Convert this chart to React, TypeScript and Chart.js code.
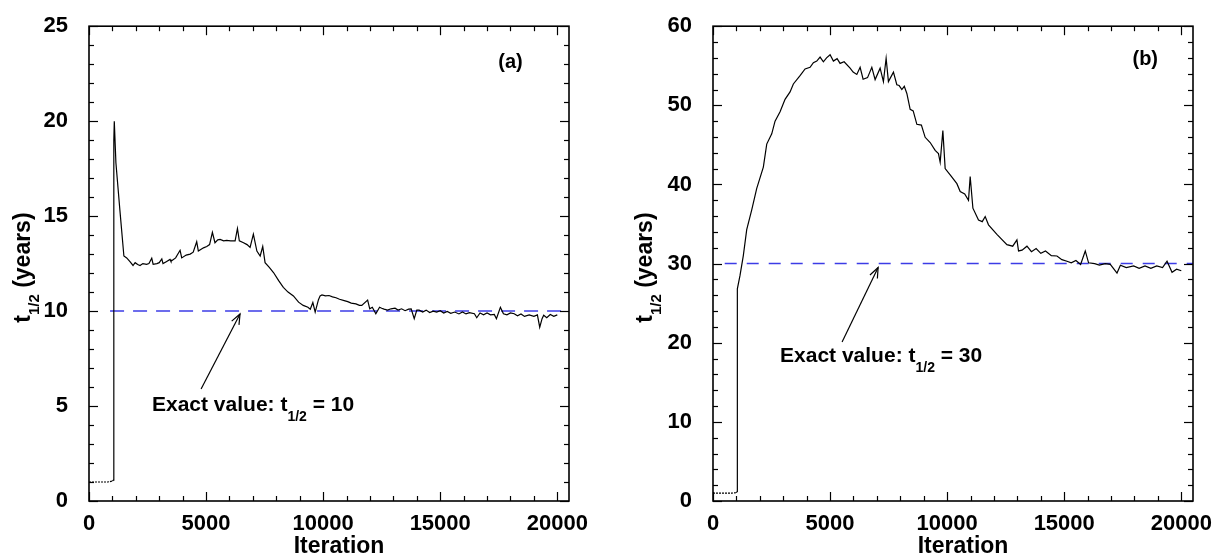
import React, { useEffect, useRef } from "react";
import { Chart, registerables } from "chart.js";

Chart.register(...registerables);

const FONT = '"Liberation Sans", Arial, Helvetica, sans-serif';

// ---- axes ----
const xTickLabels = [0, 5000, 10000, 15000, 20000];
const xMin = 0;
const xMax = 20500;
const xMinorStep = 1000;

const yTicksA = [0, 5, 10, 15, 20, 25];
const yMinorStepA = 1;
const yTicksB = [0, 10, 20, 30, 40, 50, 60];
const yMinorStepB = 2;

// ---- panel (a) series ----
const iterA = [
  0, 200, 400, 600, 800, 1000, 1040, 1060, 1080, 1150, 1320, 1490, 1610, 1750, 1880, 1970, 2080, 2180, 2300, 2460,
  2560, 2680, 2740, 2900, 3000, 3110, 3160, 3300, 3460, 3500, 3700, 3890, 3960, 4150, 4320, 4450, 4600, 4670, 4890,
  5030, 5150, 5270, 5380, 5500, 5600, 5750, 5880, 6050, 6240, 6340, 6420, 6600, 6750, 6880, 7020, 7170, 7310, 7420,
  7520, 7700, 7880, 8100, 8300, 8500, 8730, 8950, 9150, 9350, 9450, 9560, 9660, 9800, 9870, 9950, 10100, 10250, 10400,
  10550, 10700, 10900, 11050, 11200, 11400, 11550, 11650, 11900, 11990, 12100, 12250, 12410, 12500, 12600, 12750,
  12900, 13070, 13200, 13350, 13500, 13650, 13760, 13890, 14000, 14100, 14250, 14400, 14550, 14700, 14850, 15000,
  15150, 15300, 15450, 15620, 15800, 15950, 16100, 16250, 16460, 16560, 16700, 16850, 17000, 17150, 17310, 17400,
  17570, 17700, 17850, 18000, 18160, 18300, 18450, 18600, 18800, 19000, 19150, 19250, 19350, 19420, 19550, 19700,
  19850, 20000,
];
const valA = [
  1.0, 1.0, 1.0, 1.0, 1.0, 1.05, 1.1, 19.0, 20.0, 17.8, 15.3, 12.9, 12.8, 12.6, 12.4, 12.55, 12.45, 12.4, 12.5, 12.46,
  12.5, 12.78, 12.46, 12.5, 12.55, 12.75, 12.5, 12.6, 12.72, 12.62, 12.8, 13.2, 12.8, 12.95, 13.0, 13.1, 13.65, 13.16,
  13.33, 13.4, 13.5, 14.15, 13.6, 13.75, 13.77, 13.7, 13.72, 13.7, 13.7, 14.35, 13.7, 13.6, 13.5, 13.35, 14.05, 13.16,
  12.9, 13.4, 12.55, 12.3, 12.03, 11.6, 11.25, 11.0, 10.8, 10.47, 10.3, 10.2, 10.1, 10.45, 9.95, 10.6, 10.8, 10.85,
  10.8, 10.82, 10.75, 10.7, 10.62, 10.55, 10.5, 10.42, 10.38, 10.3, 10.3, 10.58, 10.12, 10.2, 9.86, 10.2, 10.15, 10.1,
  10.05, 10.12, 10.15, 10.05, 10.12, 10.02, 10.1, 10.12, 9.6, 10.05, 10.05, 9.95, 10.05, 9.92, 10.0, 9.95, 10.02, 9.9,
  9.98, 9.88, 9.95, 9.85, 9.95, 9.85, 9.92, 9.86, 9.65, 9.9, 9.8, 9.9, 9.8, 9.82, 9.6, 10.2, 9.86, 9.8, 9.9, 9.86, 9.75,
  9.85, 9.72, 9.8, 9.72, 9.8, 9.15, 9.6, 9.78, 9.65, 9.82, 9.72, 9.8,
];

// ---- panel (b) series ----
const iterB = [
  0, 200, 400, 600, 800, 1000, 1030, 1040, 1154, 1295, 1440, 1654, 1868, 2150, 2295, 2509, 2650, 2864, 3077, 3291, 3432,
  3718, 3932, 4146, 4287, 4432, 4573, 4714, 4850, 5001, 5142, 5300, 5428, 5600, 5855, 5984, 6142, 6283, 6411, 6600,
  6783, 6924, 7138, 7278, 7394, 7492, 7706, 7851, 7950, 8065, 8170, 8279, 8420, 8550, 8706, 8900, 9061, 9275, 9488,
  9629, 9702, 9817, 9915, 10129, 10416, 10557, 10750, 10912, 10984, 11100, 11339, 11500, 11625, 11766, 12125, 12553,
  12800, 12980, 13049, 13200, 13408, 13600, 13800, 14000, 14200, 14450, 14690, 14900, 15117, 15300, 15500, 15700,
  15899, 16040, 16300, 16500, 16750, 16968, 17254, 17400, 17650, 17964, 18200, 18450, 18700, 18950, 19200, 19391,
  19605, 19800, 20000,
];
const valB = [
  1.0, 1.0, 1.0, 1.0, 1.0, 1.05, 1.2, 26.8, 28.5, 31.0, 34.3, 36.8, 39.5, 42.2, 45.1, 46.4, 48.0, 49.2, 50.75, 51.7,
  52.7, 53.75, 54.6, 54.8, 55.4, 55.6, 56.1, 55.5, 56.0, 56.4, 55.6, 55.9, 55.3, 55.5, 54.7, 54.2, 53.9, 54.8, 53.3,
  53.5, 54.8, 53.25, 54.7, 53.0, 55.95, 53.0, 54.2, 52.6, 52.5, 52.0, 52.4, 51.5, 49.5, 49.3, 47.6, 47.5, 45.96, 45.3,
  44.3, 43.9, 42.8, 46.8, 42.0, 41.2, 40.1, 39.1, 38.8, 38.0, 41.0, 37.0, 35.5, 35.3, 35.95, 34.9, 33.7, 32.4, 32.2,
  33.0, 31.6, 31.7, 32.2, 31.5, 31.9, 31.3, 31.6, 31.0, 30.96, 30.5, 30.3, 30.1, 30.4, 29.9, 31.6, 30.1, 30.0, 29.8,
  30.0, 29.9, 28.8, 29.8, 29.5, 29.7, 29.4, 29.7, 29.4, 29.7, 29.5, 30.3, 28.9, 29.3, 29.1,
];

// ---- exact value reference lines ----
const exactA = 10;
const exactB = 30;
const exactLineIterA = [900, 20500];
const exactLineIterB = [500, 20500];

// ---- annotation anchors (data space) ----
const panelLabelA = { text: "(a)", x: 18000, y: 23.1 };
const panelLabelB = { text: "(b)", x: 18460, y: 55.75 };
const noteA = { x: 2690, y: 4.74, value: "10", tailX: 4787, tailY: 5.9, tipX: 6450, tipY: 9.85 };
const noteB = { x: 2864, y: 17.6, value: "30", tailX: 5513, tailY: 20.1, tipX: 7052, tipY: 29.5 };

type PanelCfg = {
  iter: number[];
  val: number[];
  yTicks: number[];
  yMinor: number;
  exact: number;
  exactIter: number[];
  dash: number[];
  label: { text: string; x: number; y: number };
  note: typeof noteA;
  padLeft: number;
  padRight: number;
  yTitleOffset: number;
};

function drawRich(ctx: CanvasRenderingContext2D, x: number, y: number, parts: { t: string; size: number; dy: number }[]) {
  let cx = x;
  ctx.textAlign = "left";
  ctx.textBaseline = "alphabetic";
  for (const p of parts) {
    ctx.font = `bold ${p.size}px ${FONT}`;
    ctx.fillText(p.t, cx, y + p.dy);
    cx += ctx.measureText(p.t).width;
  }
  return cx - x;
}

function richWidth(ctx: CanvasRenderingContext2D, parts: { t: string; size: number; dy: number }[]) {
  let w = 0;
  for (const p of parts) {
    ctx.font = `bold ${p.size}px ${FONT}`;
    w += ctx.measureText(p.t).width;
  }
  return w;
}

function makeOverlay(cfg: PanelCfg) {
  return {
    id: "overlay",
    afterDraw(chart: any) {
      const ctx: CanvasRenderingContext2D = chart.ctx;
      const ca = chart.chartArea;
      const x = chart.scales.x;
      const y = chart.scales.y;
      ctx.save();
      ctx.strokeStyle = "#000";
      ctx.fillStyle = "#000";
      // frame
      ctx.lineWidth = 1.6;
      ctx.strokeRect(ca.left, ca.top, ca.right - ca.left, ca.bottom - ca.top);
      // inward ticks on all sides
      ctx.lineWidth = 1.2;
      const seg = (x1: number, y1: number, x2: number, y2: number) => {
        ctx.beginPath();
        ctx.moveTo(x1, y1);
        ctx.lineTo(x2, y2);
        ctx.stroke();
      };
      for (let v = xMin; v <= xTickLabels[xTickLabels.length - 1]; v += xMinorStep) {
        const px = Math.round(x.getPixelForValue(v)) + 0.5;
        const major = xTickLabels.includes(v);
        const len = major ? 9 : 5;
        seg(px, ca.bottom, px, ca.bottom - len);
        seg(px, ca.top, px, ca.top + len);
      }
      const yTop = cfg.yTicks[cfg.yTicks.length - 1];
      for (let v = cfg.yTicks[0]; v <= yTop; v += cfg.yMinor) {
        const py = Math.round(y.getPixelForValue(v)) + 0.5;
        const major = cfg.yTicks.includes(v);
        const len = major ? 9 : 5;
        seg(ca.left, py, ca.left + len, py);
        seg(ca.right, py, ca.right - len, py);
      }
      // x title
      ctx.font = `bold 23px ${FONT}`;
      ctx.textAlign = "center";
      ctx.textBaseline = "alphabetic";
      ctx.fillText("Iteration", (ca.left + ca.right) / 2 + 10, 553);
      // y title (rotated)
      const yParts = [
        { t: "t", size: 23, dy: 0 },
        { t: "1/2", size: 15, dy: 9 },
        { t: " (years)", size: 23, dy: 0 },
      ];
      const tw = richWidth(ctx, yParts);
      ctx.save();
      ctx.translate(ca.left - cfg.yTitleOffset, (ca.top + ca.bottom) / 2 + 4);
      ctx.rotate(-Math.PI / 2);
      drawRich(ctx, -tw / 2, 0, yParts);
      ctx.restore();
      // panel label
      ctx.font = `bold 20px ${FONT}`;
      ctx.textAlign = "center";
      ctx.textBaseline = "middle";
      ctx.fillText(cfg.label.text, x.getPixelForValue(cfg.label.x), y.getPixelForValue(cfg.label.y));
      // note
      const n = cfg.note;
      drawRich(ctx, x.getPixelForValue(n.x), y.getPixelForValue(n.y), [
        { t: "Exact value: t", size: 21, dy: 0 },
        { t: "1/2", size: 14, dy: 10 },
        { t: " = " + n.value, size: 21, dy: 0 },
      ]);
      // arrow
      const tx = x.getPixelForValue(n.tailX);
      const ty = y.getPixelForValue(n.tailY);
      const hx = x.getPixelForValue(n.tipX);
      const hy = y.getPixelForValue(n.tipY);
      ctx.lineWidth = 1.2;
      seg(tx, ty, hx, hy);
      const ang = Math.atan2(hy - ty, hx - tx);
      const L = 11;
      const a = (22 * Math.PI) / 180;
      ctx.beginPath();
      ctx.moveTo(hx - L * Math.cos(ang - a), hy - L * Math.sin(ang - a));
      ctx.lineTo(hx, hy);
      ctx.lineTo(hx - L * Math.cos(ang + a), hy - L * Math.sin(ang + a));
      ctx.stroke();
      ctx.restore();
    },
  };
}

function Panel({ cfg, left, width }: { cfg: PanelCfg; left: number; width: number }) {
  const ref = useRef<HTMLCanvasElement | null>(null);
  useEffect(() => {
    if (!ref.current) return;
    const data = cfg.iter.map((v, i) => ({ x: v, y: cfg.val[i] }));
    const exactData = cfg.exactIter.map((v) => ({ x: v, y: cfg.exact }));
    const chart = new Chart(ref.current, {
      type: "line",
      data: {
        datasets: [
          {
            data,
            borderColor: "#000",
            borderWidth: 1.2,
            pointRadius: 0,
            tension: 0,
            segment: {
              borderDash: (c: any) => (c.p1.parsed.x <= 1000 ? [2, 1] : undefined),
            },
          },
          {
            data: exactData,
            borderColor: "#3c3ce6",
            borderWidth: 1.5,
            borderDash: cfg.dash,
            pointRadius: 0,
          },
        ],
      },
      options: {
        responsive: false,
        animation: false,
        devicePixelRatio: 1,
        layout: { autoPadding: false, padding: { top: 21, right: cfg.padRight, bottom: 0, left: 0 } },
        plugins: { legend: { display: false }, tooltip: { enabled: false } },
        scales: {
          x: {
            type: "linear",
            min: xMin,
            max: xMax,
            grid: { display: false },
            border: { display: false },
            afterBuildTicks: (s: any) => {
              s.ticks = xTickLabels.map((v) => ({ value: v }));
            },
            afterFit: (s: any) => {
              s.height = 59;
            },
            ticks: {
              autoSkip: false,
              maxRotation: 0,
              padding: 2,
              color: "#000",
              font: { family: FONT, size: 22, weight: "bold" },
              callback: (v: any) => String(v),
            },
          },
          y: {
            type: "linear",
            min: cfg.yTicks[0],
            max: cfg.yTicks[cfg.yTicks.length - 1],
            grid: { display: false },
            border: { display: false },
            afterBuildTicks: (s: any) => {
              s.ticks = cfg.yTicks.map((v) => ({ value: v }));
            },
            afterFit: (s: any) => {
              s.width = cfg.padLeft;
            },
            ticks: {
              autoSkip: false,
              padding: 13,
              color: "#000",
              font: { family: FONT, size: 22, weight: "bold" },
              callback: (v: any) => String(v),
            },
          },
        },
      } as any,
      plugins: [makeOverlay(cfg)],
    });
    return () => chart.destroy();
  }, [cfg]);
  return (
    <canvas
      ref={ref}
      width={width}
      height={560}
      style={{ position: "absolute", left, top: 0, width, height: 560 }}
    />
  );
}

const cfgA: PanelCfg = {
  iter: iterA,
  val: valA,
  yTicks: yTicksA,
  yMinor: yMinorStepA,
  exact: exactA,
  exactIter: exactLineIterA,
  dash: [14, 9],
  label: panelLabelA,
  note: noteA,
  padLeft: 89,
  padRight: 612 - 569,
  yTitleOffset: 59,
};

const cfgB: PanelCfg = {
  iter: iterB,
  val: valB,
  yTicks: yTicksB,
  yMinor: yMinorStepB,
  exact: exactB,
  exactIter: exactLineIterB,
  dash: [12, 10],
  label: panelLabelB,
  note: noteB,
  padLeft: 713 - 612,
  padRight: 1225 - 1193,
  yTitleOffset: 61,
};

export default function App() {
  return (
    <div style={{ position: "absolute", left: 0, top: 0, width: 1225, height: 560, background: "#fff" }}>
      <Panel cfg={cfgA} left={0} width={612} />
      <Panel cfg={cfgB} left={612} width={613} />
    </div>
  );
}
